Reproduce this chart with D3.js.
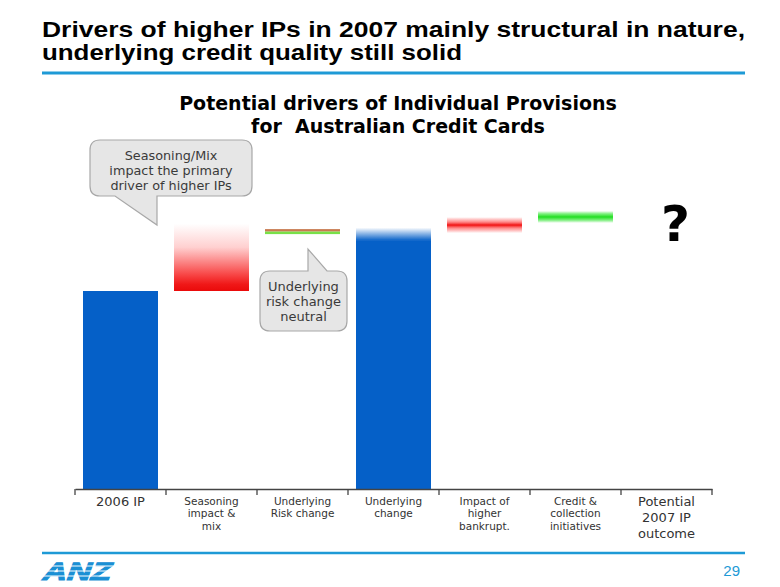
<!DOCTYPE html>
<html><head><meta charset="utf-8">
<script src="https://cdn.jsdelivr.net/npm/d3@7"></script>
<style>html,body{margin:0;padding:0;background:#fff;}svg{display:block;}</style>
</head><body>
<svg id="c" width="780" height="587"></svg>
<script>
// ---- data ----
const categories = ["2006 IP", "Seasoning impact & mix", "Underlying Risk change", "Underlying change",
  "Impact of higher bankrupt.", "Credit & collection initiatives", "Potential 2007 IP outcome"];
const labelLines = [["2006 IP"], ["Seasoning", "impact &", "mix"], ["Underlying", "Risk change"],
  ["Underlying", "change"], ["Impact of", "higher", "bankrupt."], ["Credit &", "collection", "initiatives"],
  ["Potential", "2007 IP", "outcome"]];
const barStart = [0, 100, null, 0, null, null, null];
const barEnd   = [100, 134, null, 132, null, null, null];
const lineLevel = [null, null, 130, null, 133.3, 137.4, null];
const kinds = ["blue", "redFade", "riskLine", "blueFade", "redLine", "greenLine", "question"];

const svg = d3.select("#c");
const defs = svg.append("defs");

// gradients
function grad(id, stops) {
  const g = defs.append("linearGradient").attr("id", id).attr("x1", 0).attr("y1", 0).attr("x2", 0).attr("y2", 1);
  stops.forEach(s => g.append("stop").attr("offset", s[0]).attr("stop-color", s[1]).attr("stop-opacity", s[2] == null ? 1 : s[2]));
}
grad("gRed", [[0, "#ffffff"], [0.35, "#ffd0d0"], [0.75, "#f84848"], [0.9, "#f01818"], [1, "#ea0a0a"]]);
grad("gBlue", [[0, "#ffffff"], [1, "#0560c8"]]);
grad("gRedLine", [[0, "#ff3030", 0], [0.3, "#ff4040", 0.6], [0.5, "#f01010", 1], [0.7, "#ff4040", 0.6], [1, "#ff3030", 0]]);
grad("gGreenLine", [[0, "#30e030", 0], [0.25, "#40e840", 0.7], [0.5, "#20dd20", 1], [0.75, "#40e840", 0.7], [1, "#30e030", 0]]);

// header
svg.append("text").attr("x", 42).attr("y", 37).attr("font-family", "Liberation Sans Narrow, Arial Narrow, Liberation Sans, Arial, sans-serif")
  .attr("font-weight", "bold").attr("font-size", 22.5).attr("fill", "#000")
  .attr("textLength", 703).attr("lengthAdjust", "spacingAndGlyphs")
  .text("Drivers of higher IPs in 2007 mainly structural in nature,");
svg.append("text").attr("x", 42).attr("y", 60).attr("font-family", "Liberation Sans Narrow, Arial Narrow, Liberation Sans, Arial, sans-serif")
  .attr("font-weight", "bold").attr("font-size", 22.5).attr("fill", "#000")
  .attr("textLength", 420).attr("lengthAdjust", "spacingAndGlyphs")
  .text("underlying credit quality still solid");
svg.append("line").attr("x1", 42).attr("x2", 745).attr("y1", 73).attr("y2", 73)
  .attr("stroke", "#1e9ad6").attr("stroke-width", 3);

// chart title
const ct = svg.append("text").attr("text-anchor", "middle").attr("font-family", "DejaVu Sans, Verdana, sans-serif")
  .attr("font-weight", "bold").attr("font-size", 19).attr("fill", "#000");
ct.append("tspan").attr("x", 398).attr("y", 110).text("Potential drivers of Individual Provisions");
ct.append("tspan").attr("x", 398).attr("y", 133).attr("xml:space", "preserve").text("for\u00a0 Australian Credit Cards");

// scales
const x = d3.scaleBand().domain(categories).range([75, 712]).paddingInner(0).paddingOuter(0);
const xb = d3.scaleBand().domain(categories).range([75, 712]).paddingInner(0.176).paddingOuter(0.088);
const y = d3.scaleLinear().domain([0, 100]).range([489, 291]);

const data = categories.map((c, i) => ({c, i, s: barStart[i], e: barEnd[i], l: lineLevel[i], k: kinds[i]}));

// bars
const g = svg.append("g");
data.forEach(d => {
  const bx = xb(d.c), bw = xb.bandwidth();
  if (d.k === "blue") {
    g.append("rect").attr("x", bx).attr("width", bw).attr("y", y(d.e)).attr("height", y(d.s) - y(d.e)).attr("fill", "#0560c8");
  } else if (d.k === "redFade") {
    g.append("rect").attr("x", bx).attr("width", bw).attr("y", y(d.e)).attr("height", y(d.s) - y(d.e)).attr("fill", "url(#gRed)");
  } else if (d.k === "blueFade") {
    const top = y(d.e), fade = 13;
    g.append("rect").attr("x", bx).attr("width", bw).attr("y", top + fade - 0.5).attr("height", y(d.s) - top - fade + 0.5).attr("fill", "#0560c8");
    g.append("rect").attr("x", bx).attr("width", bw).attr("y", top).attr("height", fade).attr("fill", "url(#gBlue)");
  } else if (d.k === "riskLine") {
    const yy = y(d.l);
    g.append("rect").attr("x", bx).attr("width", bw).attr("y", yy - 2.5).attr("height", 2.5).attr("fill", "#c87a50");
    g.append("rect").attr("x", bx).attr("width", bw).attr("y", yy).attr("height", 2.5).attr("fill", "#78e048");
  } else if (d.k === "redLine") {
    const yy = y(d.l);
    g.append("rect").attr("x", bx).attr("width", bw).attr("y", yy - 8).attr("height", 16).attr("fill", "url(#gRedLine)");
  } else if (d.k === "greenLine") {
    const yy = y(d.l);
    g.append("rect").attr("x", bx).attr("width", bw).attr("y", yy - 6).attr("height", 12).attr("fill", "url(#gGreenLine)");
  } else if (d.k === "question") {
    g.append("text").attr("x", x(d.c) + x.bandwidth() / 2 + 9).attr("y", 241).attr("text-anchor", "middle")
      .attr("font-family", "DejaVu Sans, Verdana, sans-serif").attr("font-weight", "bold").attr("font-size", 50)
      .attr("fill", "#000").text("?");
  }
});

// axis
const axis = d3.axisBottom(x).tickSize(0).tickSizeOuter(0).tickFormat("");
const ax = svg.append("g").attr("transform", `translate(0,${y(0)})`).call(axis);
ax.select(".domain").attr("stroke", "#444").attr("stroke-width", 1.3);
const bounds = categories.map(c => x(c)).concat([x(categories[categories.length - 1]) + x.step()]);
ax.selectAll(".bnd").data(bounds).enter().append("line").attr("class", "bnd")
  .attr("x1", d => d).attr("x2", d => d).attr("y1", 0).attr("y2", 6).attr("stroke", "#444").attr("stroke-width", 1.3);
ax.selectAll(".tick").each(function (c) {
  const i = categories.indexOf(c);
  const lines = labelLines[i];
  const big = (i === 0 || i === 6);
  const t = d3.select(this).append("text").attr("fill", "#333").attr("text-anchor", "middle")
    .attr("font-family", "DejaVu Sans, Verdana, sans-serif").attr("font-size", big ? 13 : 10.5);
  lines.forEach((ln, j) => {
    t.append("tspan").attr("x", 0).attr("y", big ? 17 + j * 16 : 15.5 + j * 12.7).text(ln);
  });
});

// callouts
function callout(path, lines, cx, y0, dy, fs) {
  svg.append("path").attr("d", path).attr("fill", "#e6e6e6").attr("stroke", "#a8a8a8").attr("stroke-width", 1.2);
  const t = svg.append("text").attr("text-anchor", "middle").attr("font-family", "DejaVu Sans, Verdana, sans-serif")
    .attr("font-size", fs).attr("fill", "#3a3a3a");
  lines.forEach((ln, j) => t.append("tspan").attr("x", cx).attr("y", y0 + j * dy).text(ln));
}
// box 1: x 90-252, y 140-196, tail to (157,225)
callout("M100,140 H242 Q252,140 252,150 V186 Q252,196 242,196 H157 V225 L115,196 H100 Q90,196 90,186 V150 Q90,140 100,140 Z",
  ["Seasoning/Mix", "impact the primary", "driver of higher IPs"], 171, 160, 15, 12.8);
// box 2: x 260-347, y 271-331, tail up to (308,249)
callout("M270,271 H308 V249 L327,271 H337 Q347,271 347,281 V321 Q347,331 337,331 H270 Q260,331 260,321 V281 Q260,271 270,271 Z",
  ["Underlying", "risk change", "neutral"], 303.5, 291, 15, 13);

// footer
svg.append("line").attr("x1", 42).attr("x2", 745).attr("y1", 553).attr("y2", 553)
  .attr("stroke", "#1e9ad6").attr("stroke-width", 2.5);
svg.append("text").attr("x", 740).attr("y", 576).attr("text-anchor", "end")
  .attr("font-family", "Liberation Sans, Arial, sans-serif").attr("font-size", 15).attr("fill", "#1e9ad6").text("29");
const logo = svg.append("g");
logo.append("text").attr("x", 0).attr("y", 0).attr("transform", "translate(41,580) skewX(-20)")
  .attr("font-family", "Liberation Sans, Arial, sans-serif").attr("font-weight", "bold").attr("font-size", 25)
  .attr("textLength", 68).attr("lengthAdjust", "spacingAndGlyphs")
  .attr("fill", "#1a8fd4").attr("stroke", "#1a8fd4").attr("stroke-width", 1.2).text("ANZ");
[566, 571, 576].forEach(yy => {
  logo.append("line").attr("x1", 30).attr("x2", 120).attr("y1", yy).attr("y2", yy).attr("stroke", "#fff").attr("stroke-width", 1);
});
</script>
</body></html>
